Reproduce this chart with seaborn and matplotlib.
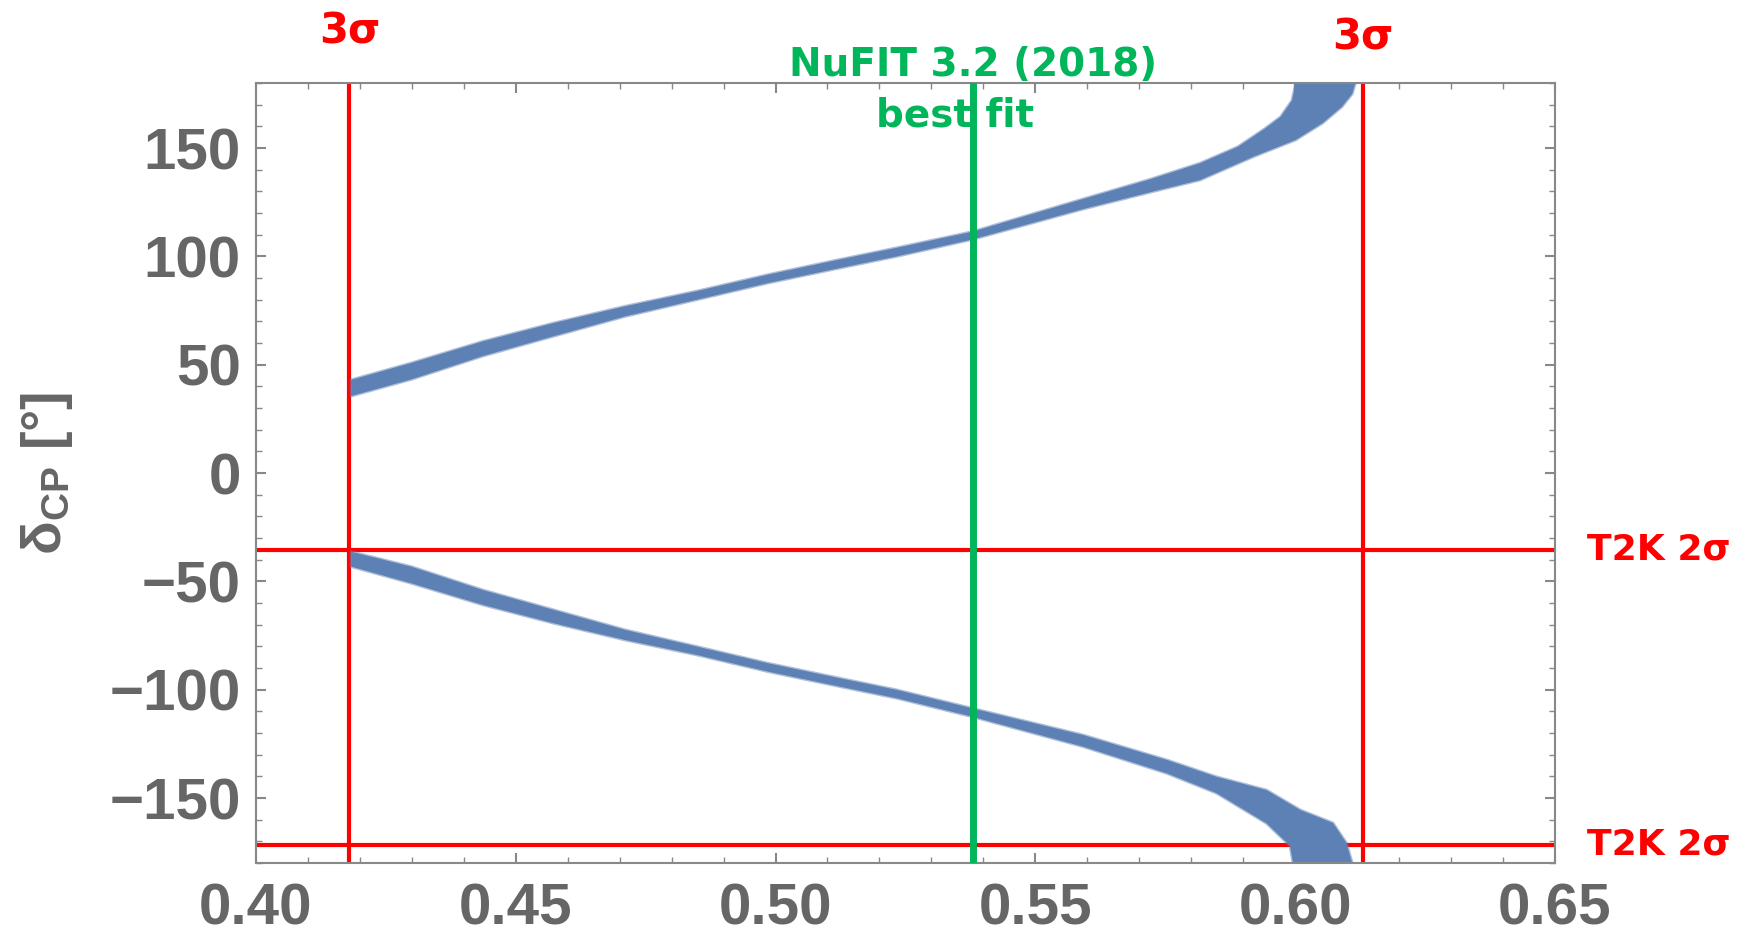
import matplotlib
matplotlib.use('Agg')
import matplotlib.pyplot as plt
import matplotlib.transforms as mtransforms
from matplotlib.ticker import MultipleLocator
import seaborn as sns

# sin^2(theta23) 3 sigma bounds and NuFIT 3.2 best fit
sigma3_lo = 0.418
sigma3_hi = 0.613
nufit_best = 0.538
# T2K 2 sigma bounds on delta_CP [deg]
t2k_lo = -171.5
t2k_hi = -35.5

# upper branch of the allowed band (outer edge / inner edge)
up_out_x = [0.4183, 0.4299, 0.4437, 0.4574, 0.4711, 0.4849, 0.4986, 0.5124, 0.5234, 0.5379, 0.5592,
            0.572, 0.5817, 0.589, 0.5942, 0.5972, 0.5994, 0.6001]
up_out_y = [43, 50.8, 60.8, 69.3, 77, 84, 91.6, 98.6, 104, 111.4, 126.5,
            135.5, 143, 150.6, 159, 164.4, 172, 180]
up_in_x = [0.4183, 0.4299, 0.4437, 0.4574, 0.4711, 0.4849, 0.4986, 0.5124, 0.5234, 0.5379, 0.5592,
           0.572, 0.5817, 0.592, 0.6001, 0.6053, 0.609, 0.611, 0.6116]
up_in_y = [35.5, 43.2, 54, 63.2, 72.3, 80, 87.7, 94.6, 100, 107.8, 121.8,
           129.5, 135.2, 146, 153.7, 161.5, 169, 175, 180]

# lower branch
lo_out_x = [0.4183, 0.4299, 0.4437, 0.4574, 0.4711, 0.4849, 0.4986, 0.5124, 0.5234, 0.5379, 0.5592,
            0.5753, 0.5849, 0.5945, 0.599, 0.5996]
lo_out_y = [-43.2, -50.9, -60.9, -69.4, -77.1, -84.0, -91.7, -98.6, -104, -112.5, -126.3,
            -138.6, -147.8, -161.7, -172, -180]
lo_in_x = [0.4183, 0.4299, 0.4437, 0.4574, 0.4711, 0.4849, 0.4986, 0.5124, 0.5234, 0.5379, 0.5592,
           0.5753, 0.5849, 0.5945, 0.601, 0.6073, 0.6099, 0.611]
lo_in_y = [-36.3, -43.2, -54, -63.2, -72.4, -80.1, -87.8, -94.7, -100.1, -108.6, -120.9,
           -132.4, -140.2, -146.3, -155.5, -161.5, -170.8, -180]

band_color = '#5e81b5'
red = '#ff0000'
green = '#00b55a'
gray = '#666666'

sns.set_style('ticks')
plt.rcParams['font.family'] = ['Liberation Sans', 'DejaVu Sans']
plt.rcParams['mathtext.default'] = 'regular'

fig = plt.figure(figsize=(17.52, 9.39), dpi=100)
ax = fig.add_axes([0.1461, 0.0809, 0.7414, 0.8307])

# constraint lines
for xv in [sigma3_lo, sigma3_hi]:
    ax.axvline(xv, color=red, lw=3, zorder=1)
for yv in [t2k_lo, t2k_hi]:
    ax.axhline(yv, color=red, lw=3, zorder=1)

# allowed band
for ox, oy, ix, iy in [(up_out_x, up_out_y, up_in_x, up_in_y),
                       (lo_out_x, lo_out_y, lo_in_x, lo_in_y)]:
    px = ox + ix[::-1] + ox[:1]
    py = oy + iy[::-1] + oy[:1]
    ax.fill(px, py, color=band_color, lw=0, zorder=2)
    sns.lineplot(x=px, y=py, sort=False, estimator=None, color=band_color,
                 lw=2, alpha=0.5, ax=ax, zorder=2)

ax.axvline(nufit_best, color=green, lw=5, zorder=3)

ax.set_xlim(0.40, 0.65)
ax.set_ylim(-180, 180)
ax.xaxis.set_major_locator(MultipleLocator(0.05))
ax.xaxis.set_minor_locator(MultipleLocator(0.01))
ax.yaxis.set_major_locator(MultipleLocator(50))
ax.yaxis.set_minor_locator(MultipleLocator(10))
ax.tick_params(which='both', direction='in', top=True, right=True,
               color='#888888', labelcolor=gray, labelsize=42)
ax.tick_params(which='major', length=7, width=1.5)
ax.tick_params(which='minor', length=4, width=1)
ax.tick_params(axis='x', pad=14)
ax.tick_params(axis='y', pad=11)
for lab in ax.get_xticklabels() + ax.get_yticklabels():
    lab.set_fontweight('bold')
for sp in ax.spines.values():
    sp.set_color('#888888')
    sp.set_linewidth(1.5)

ax.set_xlabel('')
ax.set_ylabel(r'$\delta_{CP}$ [°]', fontsize=40, color=gray, fontweight='bold')
ax.yaxis.set_label_coords(-0.139, 0.5)

# annotations
tx = mtransforms.blended_transform_factory(ax.transData, fig.transFigure)
ty = mtransforms.blended_transform_factory(fig.transFigure, ax.transData)
ann = dict(family='DejaVu Sans', fontweight='bold')
ax.text(sigma3_lo, 0.966, '3σ', transform=tx, color=red, fontsize=30, ha='center', va='center', **ann)
ax.text(sigma3_hi, 0.960, '3σ', transform=tx, color=red, fontsize=30, ha='center', va='center', **ann)
ax.text(0.906, t2k_hi, 'T2K 2σ', transform=ty, color=red, fontsize=26, ha='left', va='center', **ann)
ax.text(0.906, t2k_lo, 'T2K 2σ', transform=ty, color=red, fontsize=26, ha='left', va='center', **ann)
ax.text(nufit_best, 0.931, 'NuFIT 3.2 (2018)', transform=tx, color=green, fontsize=28,
        ha='center', va='center', zorder=5, **ann)
ax.text(nufit_best - 0.0035, 0.8775, 'best fit', transform=tx, color=green, fontsize=28,
        ha='center', va='center', zorder=5, **ann)

fig.savefig('out.png', dpi=100)
